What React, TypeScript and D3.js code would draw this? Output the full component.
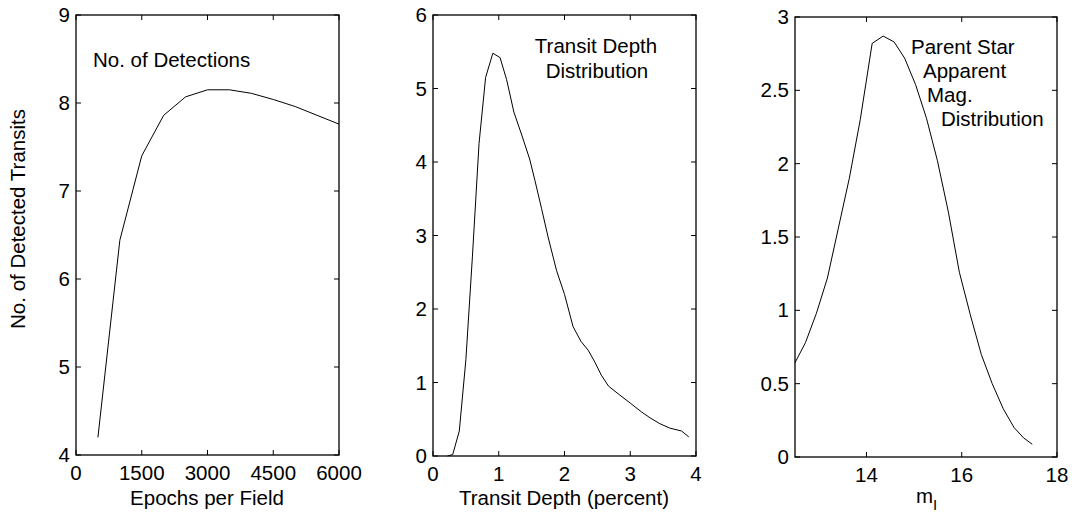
import React from 'react';
import * as d3 from 'd3';

// Panel 1: number of detections vs epochs per field
const epochs = [500, 1000, 1500, 2000, 2500, 3000, 3500, 4000, 4500, 5000, 5500, 6000];
const detections = [4.2, 6.44, 7.4, 7.86, 8.07, 8.15, 8.15, 8.11, 8.04, 7.96, 7.86, 7.76];
const p1XTicks = [0, 1500, 3000, 4500, 6000];
const p1YTicks = [4, 5, 6, 7, 8, 9];

// Panel 2: transit depth distribution
const depth = [0.22, 0.3, 0.4, 0.5, 0.6, 0.7, 0.8, 0.91, 1.02, 1.12, 1.23, 1.36, 1.47, 1.55, 1.65, 1.75, 1.88, 2.0, 2.13, 2.25, 2.36, 2.46, 2.56, 2.67, 2.84, 3.0, 3.17, 3.3, 3.45, 3.6, 3.78, 3.89];
const depthDist = [0, 0.02, 0.34, 1.31, 2.72, 4.25, 5.15, 5.48, 5.42, 5.12, 4.68, 4.34, 4.04, 3.75, 3.37, 2.98, 2.52, 2.2, 1.76, 1.56, 1.44, 1.28, 1.1, 0.95, 0.83, 0.72, 0.6, 0.52, 0.44, 0.38, 0.34, 0.26];
const p2XTicks = [0, 1, 2, 3, 4];
const p2YTicks = [0, 1, 2, 3, 4, 5, 6];

// Panel 3: parent star apparent magnitude distribution
const mag = [12.5, 12.72, 12.95, 13.18, 13.41, 13.64, 13.87, 14.12, 14.35, 14.58, 14.8, 15.03, 15.26, 15.49, 15.72, 15.95, 16.18, 16.41, 16.64, 16.87, 17.1, 17.3, 17.48];
const magDist = [0.643, 0.78, 0.98, 1.22, 1.56, 1.9, 2.3, 2.82, 2.87, 2.83, 2.72, 2.54, 2.31, 2.02, 1.67, 1.26, 0.97, 0.7, 0.5, 0.33, 0.2, 0.13, 0.087];
const p3XTicks = [14, 16, 18];
const p3YTicks = [0, 0.5, 1, 1.5, 2, 2.5, 3];

const FONT = 'Liberation Sans, Arial, Helvetica, sans-serif';
const FS = 20.5;
const TICK = 5;

type PanelProps = {
  left: number; right: number; top: number; bottom: number;
  xDomain: [number, number]; yDomain: [number, number];
  xTicks: number[]; yTicks: number[];
  xs: number[]; ys: number[];
  children?: React.ReactNode;
};

function Panel({ left, right, top, bottom, xDomain, yDomain, xTicks, yTicks, xs, ys, children }: PanelProps) {
  const x = d3.scaleLinear().domain(xDomain).range([left, right]);
  const y = d3.scaleLinear().domain(yDomain).range([bottom, top]);
  const line = d3.line<number>().x((_, i) => x(xs[i])).y((d) => y(d));
  const fmt = (v: number) => String(v);
  return (
    <g>
      <path d={line(ys) || ''} fill="none" stroke="#000" strokeWidth={1} />
      <rect x={left} y={top} width={right - left} height={bottom - top} fill="none" stroke="#000" strokeWidth={1.3} />
      {xTicks.map((t) => (
        <g key={'x' + t}>
          <line x1={x(t)} x2={x(t)} y1={bottom} y2={bottom - TICK} stroke="#000" strokeWidth={1} />
          <line x1={x(t)} x2={x(t)} y1={top} y2={top + TICK} stroke="#000" strokeWidth={1} />
          <text x={x(t)} y={bottom + 25} textAnchor="middle" fontSize={FS} fontFamily={FONT}>{fmt(t)}</text>
        </g>
      ))}
      {yTicks.map((t) => (
        <g key={'y' + t}>
          <line x1={left} x2={left + TICK} y1={y(t)} y2={y(t)} stroke="#000" strokeWidth={1} />
          <line x1={right} x2={right - TICK} y1={y(t)} y2={y(t)} stroke="#000" strokeWidth={1} />
          <text x={left - 6} y={y(t) + 7} textAnchor="end" fontSize={FS} fontFamily={FONT}>{fmt(t)}</text>
        </g>
      ))}
      {children}
    </g>
  );
}

export default function App() {
  return (
    <svg width={1074} height={516} style={{ position: 'fixed', left: 0, top: 0, background: '#fff' }}>
      <rect x={0} y={0} width={1074} height={516} fill="#fff" />
      <Panel left={76} right={339} top={15} bottom={455} xDomain={[0, 6000]} yDomain={[4, 9]}
        xTicks={p1XTicks} yTicks={p1YTicks} xs={epochs} ys={detections}>
        <text x={93} y={67} fontSize={FS} fontFamily={FONT}>No. of Detections</text>
        <text x={207} y={505} textAnchor="middle" fontSize={FS} fontFamily={FONT}>Epochs per Field</text>
        <text transform="translate(25,219) rotate(-90)" textAnchor="middle" fontSize={FS} fontFamily={FONT}>No. of Detected Transits</text>
      </Panel>
      <Panel left={433} right={696} top={15} bottom={456} xDomain={[0, 4]} yDomain={[0, 6]}
        xTicks={p2XTicks} yTicks={p2YTicks} xs={depth} ys={depthDist}>
        <text x={596} y={53} textAnchor="middle" fontSize={FS} fontFamily={FONT}>Transit Depth</text>
        <text x={597} y={78} textAnchor="middle" fontSize={FS} fontFamily={FONT}>Distribution</text>
        <text x={564} y={505} textAnchor="middle" fontSize={FS} fontFamily={FONT}>Transit Depth (percent)</text>
      </Panel>
      <Panel left={795} right={1057} top={17} bottom={457} xDomain={[12.5, 18]} yDomain={[0, 3]}
        xTicks={p3XTicks} yTicks={p3YTicks} xs={mag} ys={magDist}>
        <text x={911} y={54} fontSize={FS} fontFamily={FONT}>Parent Star</text>
        <text x={923} y={78} fontSize={FS} fontFamily={FONT}>Apparent</text>
        <text x={927} y={102} fontSize={FS} fontFamily={FONT}>Mag.</text>
        <text x={941} y={126} fontSize={FS} fontFamily={FONT}>Distribution</text>
        <text x={916} y={503} fontSize={FS} fontFamily={FONT}>m<tspan fontSize={15} dy={7}>I</tspan></text>
      </Panel>
    </svg>
  );
}
